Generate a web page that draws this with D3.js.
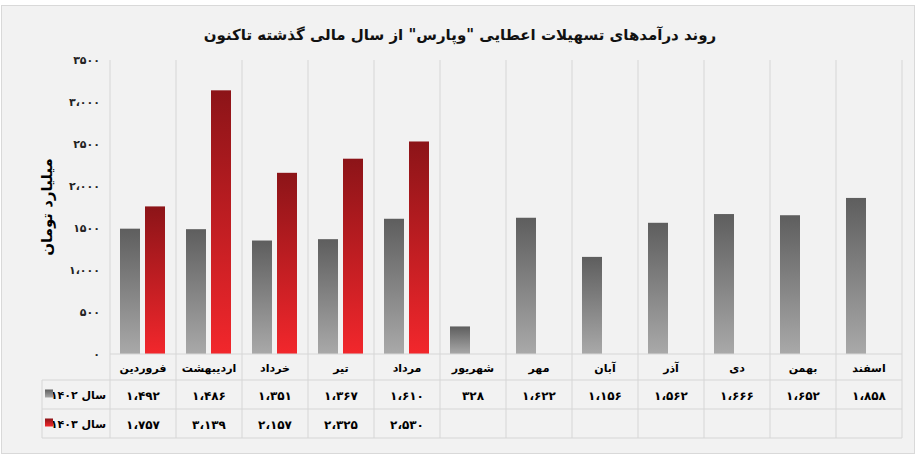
<!DOCTYPE html>
<html><head><meta charset="utf-8">
<script src="https://cdn.jsdelivr.net/npm/d3@7"></script>
<style>body{margin:0;background:#fff}svg{font-family:"DejaVu Sans",sans-serif}</style>
</head><body><div id="chart"></div>
<script>
const months = ["فروردین","اردیبهشت","خرداد","تیر","مرداد","شهریور","مهر","آبان","آذر","دی","بهمن","اسفند"];
const y1402 = [1492,1486,1351,1367,1610,328,1622,1156,1562,1666,1652,1858];
const y1403 = [1757,3139,2157,2325,2530];
const seriesNames = ["سال ۱۴۰۲","سال ۱۴۰۳"];
const yTicks = [0,500,1000,1500,2000,2500,3000,3500];

const W = 917, H = 457;
const mLeft = 110, mRight = 902, mTop = 60, mBottom = 354;
const fa = n => {
  let s = n >= 1000 ? Math.floor(n/1000) + "،" + String(n%1000).padStart(3,"0") : String(n);
  return s.replace(/\d/g, d => "۰۱۲۳۴۵۶۷۸۹"[d]);
};
const tickFmt = n => n % 1000 === 0 ? fa(n) : fa(n).replace("،","");

const svg = d3.select("#chart").append("svg").attr("width", W).attr("height", H);
svg.append("rect").attr("x",1.5).attr("y",5.5).attr("width",W-4).attr("height",H-9)
  .attr("fill","#f2f2f2").attr("stroke","#d9d9d9");

const defs = svg.append("defs");
const grad = (id, c1, c2) => {
  const g = defs.append("linearGradient").attr("id", id).attr("x1",0).attr("x2",0).attr("y1",0).attr("y2",1);
  g.append("stop").attr("offset","0%").attr("stop-color",c1);
  g.append("stop").attr("offset","100%").attr("stop-color",c2);
};
grad("g1","#5e5e5e","#a9a9a9");
grad("g2","#8c1418","#f2272c");

svg.append("text").attr("x",460).attr("y",40).attr("text-anchor","middle")
  .attr("font-size",15).attr("font-weight","bold").attr("fill","#111")
  .text('روند درآمدهای تسهیلات اعطایی "وپارس" از سال مالی گذشته تاکنون');

const x = d3.scaleBand().domain(months).range([mLeft, mRight]);
const y = d3.scaleLinear().domain([0,3500]).range([mBottom, mTop]);

// category separators
svg.append("g").selectAll("line").data(d3.range(months.length+1)).join("line")
  .attr("x1", i => mLeft + i*x.step()).attr("x2", i => mLeft + i*x.step())
  .attr("y1", mTop).attr("y2", 438).attr("stroke","#d6d6d6");

svg.append("g").selectAll("text").data(yTicks).join("text")
  .attr("x", 100).attr("y", d => y(d)+4).attr("text-anchor","end")
  .attr("font-size",11).attr("font-weight","bold").attr("fill","#222")
  .text(tickFmt);

svg.append("text").attr("transform",`translate(52,207) rotate(-90)`)
  .attr("text-anchor","middle").attr("font-size",15).attr("font-weight","bold")
  .text("میلیارد تومان");

const bw = 20;
svg.append("g").selectAll("rect").data(y1402).join("rect")
  .attr("x",(d,i)=>x(months[i]) + 10).attr("width",bw)
  .attr("y",d=>y(d)).attr("height",d=>mBottom-y(d)).attr("fill","url(#g1)");
svg.append("g").selectAll("rect").data(y1403).join("rect")
  .attr("x",(d,i)=>x(months[i]) + 35).attr("width",bw)
  .attr("y",d=>y(d)).attr("height",d=>mBottom-y(d)).attr("fill","url(#g2)");

// table
const rows = [354, 380, 409, 438];
const tg = svg.append("g").attr("stroke","#d6d6d6");
tg.append("line").attr("x1",mLeft).attr("x2",mRight).attr("y1",rows[0]).attr("y2",rows[0]);
[1,2,3].forEach(r => tg.append("line").attr("x1",42).attr("x2",mRight).attr("y1",rows[r]).attr("y2",rows[r]));
tg.append("line").attr("x1",42).attr("x2",42).attr("y1",rows[1]).attr("y2",rows[3]);

svg.append("g").selectAll("text").data(months).join("text")
  .attr("x", d => x(d)+x.bandwidth()/2).attr("y",372).attr("text-anchor","middle")
  .attr("font-size",11).attr("font-weight","bold").text(d=>d);
[y1402, y1403].forEach((arr, r) => {
  const cy = (rows[r+1]+rows[r+2])/2;
  svg.append("g").selectAll("text").data(arr).join("text")
    .attr("x",(d,i)=>x(months[i])+x.bandwidth()/2).attr("y",cy+5)
    .attr("text-anchor","middle").attr("font-size",12).attr("font-weight","bold").text(d=>fa(d));
  svg.append("text").attr("x",106).attr("y",cy+4).attr("text-anchor","end")
    .attr("font-size",11).attr("font-weight","bold").text(seriesNames[r]);
  svg.append("rect").attr("x",45).attr("y",cy-5).attr("width",8).attr("height",8)
    .attr("fill", r ? "url(#g2)" : "url(#g1)");
});
</script></body></html>
